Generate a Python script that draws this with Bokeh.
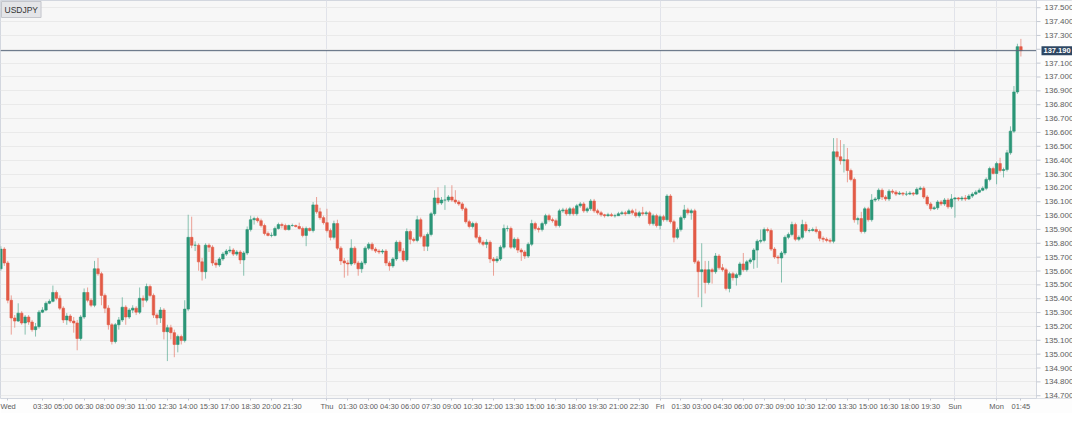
from bokeh.plotting import figure
from bokeh.models import Range1d, FixedTicker, Label, ColumnDataSource
from bokeh.core.properties import value
from bokeh.embed import file_html
from bokeh.resources import INLINE

symbol = "USDJPY"
last_price = 137.190
first_index = 2          # 15-minute bar number counted from Wed 00:00
first_open = 135.616

closes = [
    135.758, 135.658, 135.389, 135.261, 135.239, 135.296, 135.225, 135.268, 135.232, 135.177,
    135.198, 135.303, 135.318, 135.367, 135.381, 135.445, 135.403, 135.332, 135.247, 135.275,
    135.239, 135.225, 135.113, 135.268, 135.445, 135.389, 135.353, 135.616, 135.580, 135.424,
    135.332, 135.212, 135.091, 135.212, 135.247, 135.339, 135.268, 135.318, 135.332, 135.303,
    135.403, 135.389, 135.488, 135.424, 135.282, 135.261, 135.318, 135.162, 135.191, 135.155,
    135.070, 135.127, 135.098, 135.325, 135.843, 135.786, 135.786, 135.666, 135.595, 135.786,
    135.772, 135.658, 135.644, 135.687, 135.722, 135.744, 135.751, 135.722, 135.737, 135.680,
    135.730, 135.899, 135.970, 135.978, 135.963, 135.928, 135.871, 135.857, 135.857, 135.907,
    135.935, 135.928, 135.899, 135.928, 135.928, 135.921, 135.907, 135.857, 135.907, 135.892,
    136.077, 136.027, 135.985, 135.949, 135.892, 135.843, 135.942, 135.765, 135.673, 135.658,
    135.651, 135.765, 135.658, 135.616, 135.658, 135.765, 135.793, 135.758, 135.744, 135.737,
    135.744, 135.658, 135.637, 135.687, 135.807, 135.744, 135.680, 135.885, 135.829, 135.821,
    135.970, 135.850, 135.779, 135.864, 136.013, 136.127, 136.091, 136.112, 136.112, 136.134,
    136.112, 136.098, 136.084, 136.049, 135.956, 135.921, 135.942, 135.843, 135.807, 135.793,
    135.807, 135.687, 135.673, 135.687, 135.772, 135.907, 135.907, 135.772, 135.829, 135.751,
    135.737, 135.708, 135.793, 135.942, 135.907, 135.899, 135.942, 135.999, 135.970, 135.963,
    135.928, 136.034, 136.041, 136.013, 136.049, 136.013, 136.070, 136.084, 136.034, 136.049,
    136.105, 136.034, 136.020, 136.006, 135.999, 136.006, 135.999, 135.999, 136.013, 136.020,
    136.013, 136.034, 136.020, 135.999, 136.020, 136.013, 136.020, 135.942, 135.999, 135.928,
    135.992, 135.970, 136.141, 135.956, 135.843, 135.899, 135.985, 136.041, 136.020, 136.034,
    135.666, 135.595, 135.609, 135.517, 135.609, 135.595, 135.708, 135.623, 135.609, 135.474,
    135.580, 135.552, 135.573, 135.651, 135.609, 135.666, 135.680, 135.751, 135.815, 135.821,
    135.899, 135.892, 135.758, 135.701, 135.694, 135.730, 135.843, 135.864, 135.935, 135.829,
    135.843, 135.935, 135.892, 135.892, 135.899, 135.885, 135.836, 135.829, 135.821, 135.815,
    136.460, 136.424, 136.396, 136.403, 136.325, 136.261, 135.970, 135.978, 135.885, 136.049,
    135.970, 136.112, 136.120, 136.183, 136.134, 136.120, 136.176, 136.169, 136.155, 136.162,
    136.155, 136.155, 136.162, 136.155, 136.190, 136.197, 136.134, 136.084, 136.049, 136.056,
    136.098, 136.084, 136.112, 136.063, 136.120, 136.127, 136.120, 136.127, 136.120, 136.141,
    136.155, 136.169, 136.183, 136.197, 136.261, 136.339, 136.304, 136.375, 136.325, 136.332,
    136.453, 136.609, 136.892, 137.219, 137.190,
]

highs = [
    135.779, 135.772, 135.673, 135.424, 135.282, 135.367, 135.310, 135.282, 135.282, 135.247,
    135.225, 135.318, 135.339, 135.381, 135.396, 135.495, 135.460, 135.424, 135.346, 135.296,
    135.289, 135.268, 135.247, 135.282, 135.474, 135.481, 135.403, 135.673, 135.694, 135.594,
    135.438, 135.353, 135.225, 135.225, 135.268, 135.410, 135.353, 135.332, 135.353, 135.346,
    135.481, 135.424, 135.509, 135.502, 135.438, 135.296, 135.339, 135.332, 135.212, 135.212,
    135.177, 135.141, 135.141, 135.389, 136.006, 135.992, 135.814, 135.800, 135.694, 135.800,
    135.800, 135.786, 135.680, 135.701, 135.737, 135.758, 135.779, 135.765, 135.751, 135.751,
    135.744, 135.921, 135.999, 135.992, 135.992, 135.978, 135.942, 135.885, 135.878, 135.921,
    135.949, 135.949, 135.942, 135.935, 135.942, 135.935, 135.949, 135.921, 135.921, 135.914,
    136.098, 136.134, 136.056, 135.999, 136.049, 135.907, 135.963, 135.970, 135.779, 135.694,
    135.680, 135.829, 135.779, 135.673, 135.673, 135.779, 135.807, 135.807, 135.772, 135.758,
    135.758, 135.758, 135.673, 135.701, 135.821, 135.821, 135.765, 135.907, 135.899, 135.843,
    135.999, 135.985, 135.864, 135.878, 136.027, 136.183, 136.204, 136.134, 136.219, 136.148,
    136.219, 136.183, 136.112, 136.098, 136.063, 135.970, 135.956, 135.956, 135.857, 135.821,
    135.829, 135.821, 135.701, 135.708, 135.786, 135.935, 135.928, 135.921, 135.843, 135.843,
    135.765, 135.751, 135.807, 135.970, 135.956, 135.921, 135.956, 136.013, 136.013, 135.985,
    135.978, 136.049, 136.056, 136.056, 136.063, 136.063, 136.084, 136.098, 136.098, 136.063,
    136.120, 136.120, 136.049, 136.034, 136.013, 136.020, 136.020, 136.013, 136.027, 136.034,
    136.034, 136.049, 136.049, 136.049, 136.034, 136.063, 136.034, 136.034, 136.013, 136.013,
    136.006, 136.006, 136.155, 136.155, 135.970, 135.914, 135.999, 136.077, 136.056, 136.049,
    136.049, 135.680, 135.800, 135.673, 135.673, 135.623, 135.730, 135.722, 135.651, 135.623,
    135.594, 135.594, 135.587, 135.666, 135.730, 135.680, 135.694, 135.765, 135.829, 135.899,
    135.914, 135.914, 135.907, 135.772, 135.715, 135.744, 135.857, 135.878, 135.956, 135.949,
    135.857, 135.970, 135.956, 135.907, 135.914, 135.921, 135.899, 135.850, 135.843, 135.836,
    136.559, 136.559, 136.545, 136.516, 136.488, 136.339, 136.275, 135.992, 136.027, 136.063,
    136.063, 136.155, 136.134, 136.197, 136.197, 136.148, 136.190, 136.190, 136.183, 136.176,
    136.169, 136.176, 136.176, 136.169, 136.204, 136.211, 136.211, 136.148, 136.098, 136.070,
    136.112, 136.112, 136.127, 136.127, 136.155, 136.134, 136.134, 136.141, 136.148, 136.155,
    136.169, 136.183, 136.197, 136.211, 136.275, 136.353, 136.353, 136.389, 136.417, 136.346,
    136.474, 136.644, 136.935, 137.240, 137.275,
]

lows = [
    135.602, 135.637, 135.367, 135.141, 135.191, 135.232, 135.212, 135.141, 135.212, 135.162,
    135.127, 135.184, 135.296, 135.310, 135.360, 135.374, 135.389, 135.318, 135.225, 135.212,
    135.225, 135.155, 135.028, 135.098, 135.254, 135.374, 135.339, 135.339, 135.566, 135.353,
    135.296, 135.177, 135.070, 135.077, 135.177, 135.232, 135.212, 135.254, 135.296, 135.282,
    135.289, 135.339, 135.374, 135.410, 135.261, 135.212, 135.225, 135.106, 134.950, 135.106,
    134.978, 135.013, 135.070, 135.084, 135.310, 135.765, 135.744, 135.602, 135.531, 135.545,
    135.737, 135.637, 135.623, 135.630, 135.673, 135.708, 135.730, 135.708, 135.708, 135.651,
    135.566, 135.715, 135.885, 135.935, 135.949, 135.914, 135.857, 135.850, 135.843, 135.850,
    135.899, 135.907, 135.892, 135.892, 135.921, 135.914, 135.899, 135.843, 135.779, 135.885,
    135.878, 136.013, 135.970, 135.935, 135.878, 135.821, 135.828, 135.751, 135.644, 135.552,
    135.566, 135.637, 135.644, 135.566, 135.587, 135.644, 135.751, 135.744, 135.730, 135.722,
    135.722, 135.637, 135.602, 135.623, 135.673, 135.730, 135.666, 135.666, 135.793, 135.807,
    135.807, 135.836, 135.744, 135.744, 135.850, 135.999, 136.077, 136.077, 136.041, 136.098,
    136.098, 136.084, 136.070, 136.034, 135.942, 135.907, 135.907, 135.829, 135.793, 135.779,
    135.765, 135.658, 135.566, 135.658, 135.673, 135.758, 135.885, 135.758, 135.758, 135.730,
    135.673, 135.687, 135.694, 135.779, 135.892, 135.878, 135.885, 135.928, 135.956, 135.949,
    135.914, 135.914, 136.020, 135.999, 135.999, 135.999, 135.999, 136.056, 136.020, 136.020,
    136.034, 136.020, 136.006, 135.992, 135.985, 135.992, 135.992, 135.985, 135.999, 136.006,
    135.999, 136.020, 136.006, 135.985, 135.985, 135.999, 135.999, 135.928, 135.928, 135.914,
    135.899, 135.956, 135.956, 135.942, 135.807, 135.829, 135.885, 135.970, 136.006, 135.970,
    135.651, 135.410, 135.339, 135.438, 135.502, 135.509, 135.580, 135.609, 135.595, 135.460,
    135.446, 135.531, 135.495, 135.559, 135.595, 135.595, 135.651, 135.616, 135.623, 135.800,
    135.807, 135.878, 135.744, 135.687, 135.651, 135.517, 135.715, 135.829, 135.850, 135.815,
    135.815, 135.829, 135.878, 135.878, 135.885, 135.871, 135.815, 135.807, 135.807, 135.800,
    135.800, 136.403, 136.368, 136.311, 136.240, 136.247, 135.949, 135.935, 135.871, 135.871,
    135.956, 135.956, 136.098, 136.105, 136.112, 136.105, 136.105, 136.155, 136.141, 136.148,
    136.141, 136.141, 136.148, 136.141, 136.148, 136.183, 136.120, 136.070, 136.034, 136.041,
    136.041, 136.070, 136.070, 136.049, 136.049, 135.985, 136.105, 136.105, 136.105, 136.112,
    136.127, 136.148, 136.162, 136.176, 136.183, 136.247, 136.297, 136.226, 136.311, 136.275,
    136.318, 136.439, 136.595, 136.878, 137.148,
]

price_ticks = [134.7, 134.8, 134.9, 135.0, 135.1, 135.2, 135.3, 135.4, 135.5, 135.6,
               135.7, 135.8, 135.9, 136.0, 136.1, 136.2, 136.3, 136.4, 136.5, 136.6,
               136.7, 136.8, 136.9, 137.0, 137.1, 137.2, 137.3, 137.4, 137.5]
price_labels = ["134.700", "134.800", "134.900", "135.000", "135.100", "135.200", "135.300",
                "135.400", "135.500", "135.600", "135.700", "135.800", "135.900", "136.000",
                "136.100", "136.200", "136.300", "136.400", "136.500", "136.600", "136.700",
                "136.800", "136.900", "137.000", "137.100", "137.200", "137.300", "137.400",
                "137.500"]

time_tick_idx = [3.8, 14, 20, 26, 32, 38, 44, 50, 56, 62, 68, 74, 80, 86,
                 96, 102, 108, 114, 120, 126, 132, 138, 144, 150, 156, 162, 168, 174, 180, 186,
                 192, 198, 204, 210, 216, 222, 228, 234, 240, 246, 252, 258, 264, 270,
                 277, 289, 296]
time_tick_labels = ["Wed", "03:30", "05:00", "06:30", "08:00", "09:30", "11:00", "12:30", "14:00",
                    "15:30", "17:00", "18:30", "20:00", "21:30",
                    "Thu", "01:30", "03:00", "04:30", "06:00", "07:30", "09:00", "10:30", "12:00",
                    "13:30", "15:00", "16:30", "18:00", "19:30", "21:00", "22:30",
                    "Fri", "01:30", "03:00", "04:30", "06:00", "07:30", "09:00", "10:30", "12:00",
                    "13:30", "15:00", "16:30", "18:00", "19:30",
                    "Sun", "Mon", "01:45"]
day_breaks = [96, 192, 277, 289]

# ---- layout constants (pixels) ----
W, H = 1072, 413
CHART_W = 1036                      # width of the candle area; the rest is the price scale
X0, X1_CHART = 1.9, 300.5           # bar-index range shown in the candle area
PX = CHART_W / (X1_CHART - X0)      # pixels per bar
X1 = X0 + W / PX                    # frame extends under the price scale
Y0, Y1 = 134.680, 137.552

# ---- build candle table ----
n = min(len(closes), len(highs), len(lows))
xs = list(range(first_index, first_index + n))
opens = [first_open] + closes[:n - 1]
UP, DOWN = "#2b9677", "#e25a46"
colors, tops, bottoms, hi, lo = [], [], [], [], []
for o, c, h, l in zip(opens, closes[:n], highs[:n], lows[:n]):
    colors.append(UP if c >= o else DOWN)
    tops.append(max(o, c))
    bottoms.append(min(o, c))
    hi.append(max(h, o, c))
    lo.append(min(l, o, c))
src = ColumnDataSource(dict(x=xs, top=tops, bottom=bottoms, high=hi, low=lo, color=colors))

FONT = "Liberation Sans"
p = figure(width=W, height=H,
           x_range=Range1d(X0, X1), y_range=Range1d(Y0, Y1),
           output_backend="svg", toolbar_location=None, y_axis_location=None,
           min_border_left=0, min_border_top=0, min_border_right=0, min_border_bottom=12,
           background_fill_color="#f7f7f7", border_fill_color="#fdfdfd",
           outline_line_color="#d3d7df")

p.xgrid.ticker = FixedTicker(ticks=day_breaks)
p.xgrid.grid_line_color = "#e1e3ea"
p.ygrid.ticker = FixedTicker(ticks=price_ticks)
p.ygrid.grid_line_color = "#eaeaea"

# candles
p.segment(x0="x", y0="low", x1="x", y1="high", source=src, line_color="color", line_alpha=0.55, line_width=1)
p.vbar(x="x", width=0.74, top="top", bottom="bottom", source=src,
       fill_color="color", line_color="color", line_width=0.6)

# last-price line
p.segment(x0=[X0], x1=[X1_CHART], y0=[last_price], y1=[last_price], line_color="#56657a", line_width=1)

# price scale panel (right)
p.quad(left=[X1_CHART], right=[X1], bottom=[Y0], top=[Y1], fill_color="#fdfdfd", line_color=None)
p.segment(x0=[X1_CHART], x1=[X1_CHART], y0=[Y0], y1=[Y1], line_color="#d3d7df", line_width=1)
tick_len = 4 / PX
p.segment(x0=[X1_CHART] * len(price_ticks), x1=[X1_CHART + tick_len] * len(price_ticks),
          y0=price_ticks, y1=price_ticks, line_color="#c5c9d2", line_width=1)
p.text(x=[X1_CHART + 8 / PX] * len(price_ticks), y=price_ticks, text=price_labels,
       text_font=value(FONT), text_font_size="8px", text_color="#5c5c5c",
       text_align="left", text_baseline="middle")

p.add_layout(Label(x=X1_CHART + 5 / PX, y=last_price, text=f"{last_price:.3f}",
                   text_align="left", text_baseline="middle",
                   text_font=FONT, text_font_size="7.5px", text_font_style="bold",
                   text_color="#ffffff", background_fill_color="#2e4763",
                   padding=2))
p.add_layout(Label(x=X0, y=Y1, x_offset=1, y_offset=-1, text=symbol,
                   text_align="left", text_baseline="top",
                   text_font=FONT, text_font_size="8.5px", text_color="#333333",
                   background_fill_color="#e4e5e8", border_line_color="#c4c6cc",
                   padding=3))

# time axis
xa = p.xaxis[0]
xa.ticker = FixedTicker(ticks=time_tick_idx)
xa.major_label_overrides = {t: s for t, s in zip(time_tick_idx, time_tick_labels)}
xa.axis_line_color = None
xa.major_tick_out = 2
xa.major_tick_in = 0
xa.major_tick_line_color = "#c5c9d2"
xa.minor_tick_line_color = None
xa.major_label_standoff = 1
xa.major_label_text_font = FONT
xa.major_label_text_font_size = "7.5px"
xa.major_label_text_color = "#5c5c5c"

open("out.html", "w").write(file_html(p, INLINE))
